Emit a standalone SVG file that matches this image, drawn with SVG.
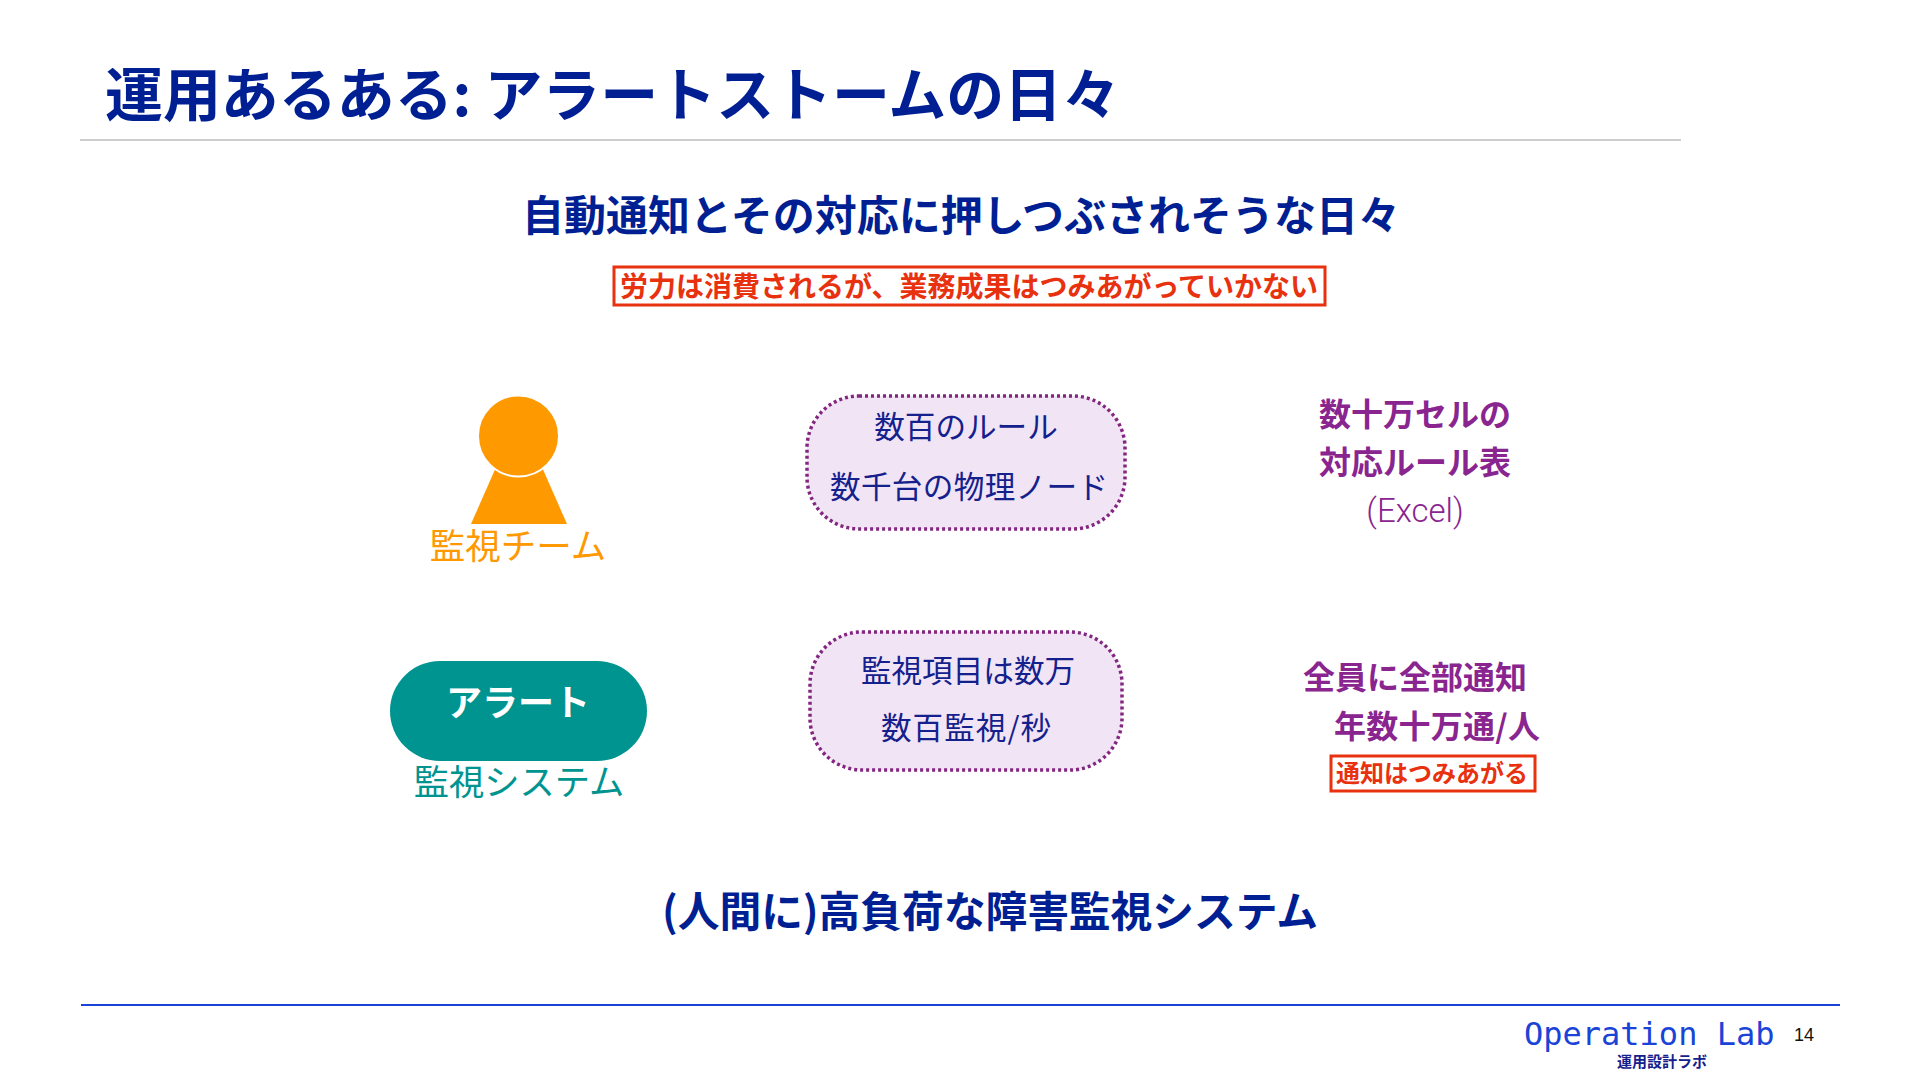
<svg xmlns="http://www.w3.org/2000/svg" width="1920" height="1080" viewBox="0 0 1920 1080">
<style>
text{font-family:"Noto Sans CJK JP","Noto Sans",sans-serif}
.m{text-anchor:middle}
.b{font-weight:700}
.navy{fill:#001f93}
.body{fill:#14208c;font-size:30.6px;font-weight:400}
.pur{fill:#8a2590;font-size:32px;font-weight:700}
.red{fill:#e8320f;font-weight:700}
.rbox{fill:none;stroke:#e8320f;stroke-width:3}
.dot{fill:#f1e4f5;stroke:#83267f;stroke-width:3.5;stroke-dasharray:3 3}
</style>
<rect width="1920" height="1080" fill="#fff"/>
<g id="header">
<text class="b navy" x="105" y="116" font-size="58" textLength="1015" lengthAdjust="spacing">運用あるある: アラートストームの日々</text>
<line x1="80" y1="140" x2="1681" y2="140" stroke="#bdbdbd" stroke-width="1.5"/>
</g>
<g id="subtitle">
<text class="b navy m" x="961" y="231" font-size="42" textLength="878" lengthAdjust="spacing">自動通知とその対応に押しつぶされそうな日々</text>
</g>
<g id="callout-top">
<rect class="rbox" x="614" y="267" width="711" height="38"/>
<text class="red" x="620" y="297" font-size="28" textLength="698" lengthAdjust="spacing">労力は消費されるが、業務成果はつみあがっていかない</text>
</g>
<g id="team">
<polygon points="471,524 567,524 530,440 508,440" fill="#ff9900"/>
<circle cx="518.5" cy="436" r="40.5" fill="#ff9900" stroke="#fff" stroke-width="2"/>
<text class="m" x="518" y="559" font-size="35.5" fill="#ff9900">監視チーム</text>
</g>
<g id="alert">
<rect x="390" y="661" width="257" height="100" rx="50" fill="#009490"/>
<text class="m b" x="518" y="716" font-size="36" fill="#fff">アラート</text>
<text class="m" x="519" y="795" font-size="35.3" fill="#009490">監視システム</text>
</g>
<g id="box-rules">
<rect class="dot" x="807" y="396" width="318" height="133" rx="52"/>
<text class="m body" x="966" y="438">数百のルール</text>
<text class="m body" x="969" y="498" textLength="278" lengthAdjust="spacing">数千台の物理ノード</text>
</g>
<g id="box-items">
<rect class="dot" x="810" y="632" width="312" height="138" rx="52"/>
<text class="m body" x="968" y="682">監視項目は数万</text>
<text class="m body" x="966" y="739" textLength="170" lengthAdjust="spacing">数百監視/秒</text>
</g>
<g id="rule-table">
<text class="m pur" x="1415" y="426">数十万セルの</text>
<text class="m pur" x="1415" y="474">対応ルール表</text>
<text class="m" x="1415" y="522" font-size="33" font-weight="300" fill="#8a2590" style="font-family:Roboto,'Liberation Sans',sans-serif">(Excel)</text>
</g>
<g id="notify">
<text class="m pur" x="1415" y="689">全員に全部通知</text>
<text class="m pur" x="1437" y="738" textLength="206" lengthAdjust="spacing">年数十万通/人</text>
<rect class="rbox" x="1331" y="756" width="204" height="35"/>
<text class="m red" x="1432" y="782" font-size="24">通知はつみあがる</text>
</g>
<g id="conclusion">
<text class="m b navy" x="990" y="927" font-size="41.8" textLength="656" lengthAdjust="spacing">(人間に)高負荷な障害監視システム</text>
</g>
<g id="footer">
<line x1="81" y1="1005" x2="1840" y2="1005" stroke="#1a44d8" stroke-width="2"/>
<text x="1524" y="1045" font-size="32" fill="#1a44d8" style="font-family:'DejaVu Sans Mono',monospace">Operation Lab</text>
<text x="1794" y="1041" font-size="18" fill="#111" style="font-family:'Liberation Sans',sans-serif">14</text>
<text class="b" x="1617" y="1067" font-size="15" fill="#14208c">運用設計ラボ</text>
</g>
<g id="connectors"/>
</svg>
